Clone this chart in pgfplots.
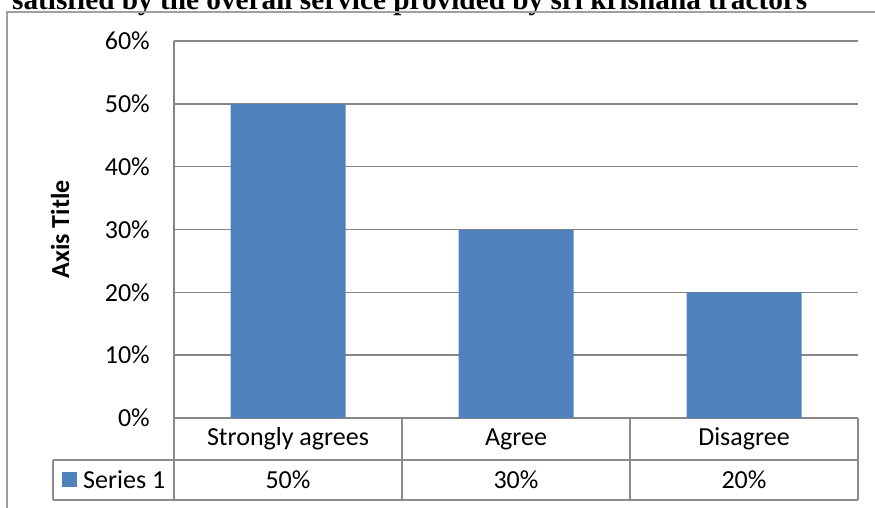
\documentclass[border=0pt]{standalone}
\usepackage{pgfplots}
\pgfplotsset{compat=1.18}
\usepackage{pgfplotstable}
\usepackage{fontspec}
\setmainfont{Carlito}
\newfontfamily\titlefont{Liberation Serif}

\definecolor{barblue}{HTML}{4F81BD}
\definecolor{gridgray}{HTML}{868686}
\definecolor{framegray}{HTML}{A0A0A0}
\definecolor{tablegray}{HTML}{8C8C8C}

% Share of respondents satisfied with the overall service
\pgfplotstableread{
idx label val
0 {Strongly agrees} 50
1 Agree 30
2 Disagree 20
}\satisfaction

\newcommand{\chartfont}{\fontsize{26}{30}\selectfont}

\begin{document}
\begin{tikzpicture}[x=1pt,y=1pt]
\useasboundingbox (0,0) rectangle (875,507);
\clip (0,0) rectangle (875,507);

% title (partly above the page) and the chart area frame
\node[anchor=base west, inner sep=0] at (12,497)
  {\resizebox{795pt}{!}{\titlefont\bfseries satisfied by the overall service provided by sri krishana tractors}};
\draw[framegray, line width=1.5pt] (7,-5) -- (7,495) -- (880,495);

\begin{axis}[
  at={(174pt,89pt)}, anchor=south west,
  scale only axis, width=684pt, height=377pt,
  xmin=-0.5, xmax=2.5, ymin=0, ymax=60,
  axis x line*=bottom, axis y line*=left,
  axis line style={gridgray, line width=1.6pt, -},
  major tick length=0pt,
  ytick={0,10,...,60},
  yticklabel={\pgfmathprintnumber{\tick}\%},
  /pgf/number format/assume math mode=true,
  yticklabel style={font=\chartfont, anchor=east, inner sep=0pt, xshift=-24pt},
  xtick={0,1,2},
  xticklabels from table={\satisfaction}{label},
  xticklabel style={font=\chartfont, anchor=center, inner sep=0pt, yshift=-21pt},
  ymajorgrids,
  grid style={gridgray, line width=1.6pt},
  clip=false,
]
\addplot[ybar, bar width=115pt, bar shift=0pt, fill=barblue, draw=none]
  table[x=idx, y=val]{\satisfaction};
% value row of the data table
\addplot[draw=none, mark=none, point meta=explicit,
  nodes near coords={\pgfmathprintnumber{\pgfplotspointmeta}\%},
  every node near coord/.style={anchor=center, inner sep=0pt, yshift=-62pt, font=\chartfont}]
  table[x=idx, y expr=0, meta=val]{\satisfaction};
\end{axis}

% data table grid
\draw[tablegray, line width=1.6pt]
  (53,47) -- (858,47)
  (53,7) -- (858,7)
  (53,47) -- (53,7)
  (174,89) -- (174,7)
  (402,89) -- (402,7)
  (630,89) -- (630,7)
  (858,89) -- (858,7);

% legend key
\fill[barblue] (62,20) rectangle (77,35);
\node[anchor=west, inner sep=0pt, font=\chartfont] at (83,27) {Series 1};

% axis title
\node[rotate=90, font=\bfseries\chartfont] at (60,277.5) {Axis Title};
\end{tikzpicture}
\end{document}
